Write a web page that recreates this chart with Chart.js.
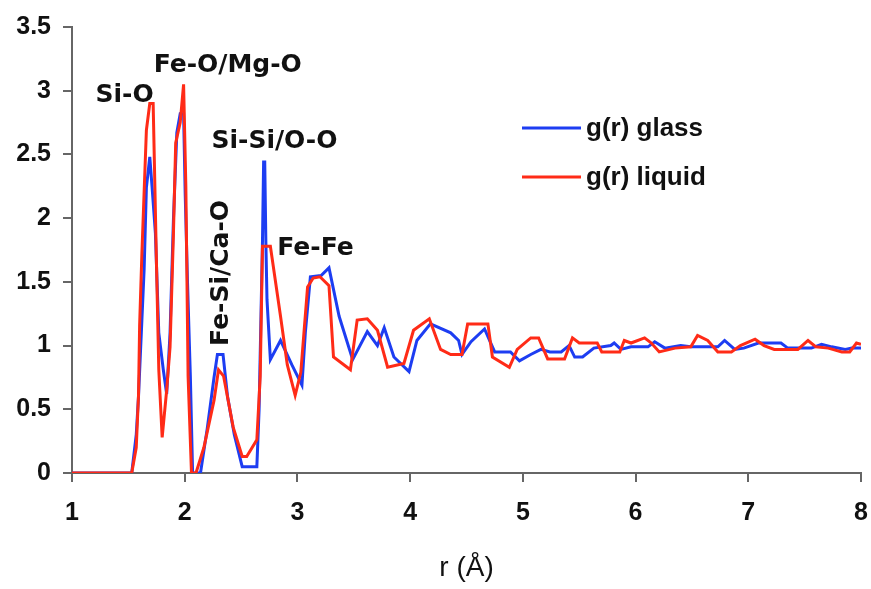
<!DOCTYPE html>
<html>
<head>
<meta charset="utf-8">
<script src="https://cdn.jsdelivr.net/npm/chart.js@4.4.1/dist/chart.umd.min.js"></script>
<style>
    html, body { margin: 0; padding: 0; background: #fff; }
    #wrap { width: 871px; height: 589px; }
</style>
</head>
<body>
<div id="wrap"><canvas id="gofr" width="871" height="589"></canvas></div>
<script>
// g(r) glass (blue)
const glassR = [1, 1.53, 1.57, 1.59, 1.62, 1.64, 1.66, 1.69, 1.71, 1.74, 1.77, 1.81, 1.84, 1.87, 1.90, 1.93, 1.96, 1.99, 2.004, 2.025, 2.05, 2.07,
    2.14, 2.20, 2.26, 2.29, 2.34, 2.38, 2.44, 2.51, 2.64, 2.66, 2.69, 2.70, 2.71, 2.72, 2.73, 2.76, 2.85, 2.95, 3.04, 3.07, 3.115, 3.21, 3.28,
    3.37, 3.49, 3.62, 3.71, 3.77, 3.856, 3.99, 4.06, 4.18, 4.36, 4.43, 4.46, 4.54, 4.66, 4.75, 4.89, 4.97, 5.07, 5.16, 5.24, 5.34, 5.41,
    5.46, 5.53, 5.63, 5.78, 5.81, 5.87, 5.96, 6.11, 6.17, 6.26, 6.40, 6.49, 6.73, 6.79, 6.88, 6.96, 7.09, 7.29, 7.35, 7.56, 7.65, 7.74,
    7.86, 7.92, 8.0];
const glassG = [0, 0, 0.3, 0.6, 1.2, 1.6, 2.24, 2.48, 2.25, 1.88, 1.1, 0.81, 0.62, 1.1, 1.99, 2.67, 2.82, 2.82, 2.2, 1.49, 0.76, 0,
    0, 0.35, 0.75, 0.93, 0.93, 0.6, 0.3, 0.05, 0.05, 0.5, 1.82, 2.44, 2.44, 1.81, 1.36, 0.89, 1.04, 0.85, 0.69, 1.1, 1.54, 1.55, 1.61,
    1.23, 0.89, 1.11, 1.0, 1.14, 0.91, 0.795, 1.04, 1.17, 1.10, 1.04, 0.93, 1.03, 1.13, 0.95, 0.95, 0.88, 0.93, 0.97, 0.95, 0.95, 1.0,
    0.91, 0.91, 0.98, 1.0, 1.02, 0.97, 0.99, 0.99, 1.03, 0.98, 1.0, 0.99, 0.99, 1.04, 0.97, 0.98, 1.02, 1.02, 0.98, 0.98, 1.01, 0.99,
    0.97, 0.98, 0.98];

// g(r) liquid (red)
const liquidR = [1, 1.53, 1.57, 1.59, 1.60, 1.62, 1.66, 1.69, 1.72, 1.75, 1.77, 1.80, 1.84, 1.87, 1.90, 1.92, 1.96, 1.99, 2.01, 2.03, 2.06,
    2.10, 2.17, 2.26, 2.30, 2.345, 2.43, 2.51, 2.55, 2.64, 2.67, 2.69, 2.76, 2.85, 2.91, 2.98, 3.03, 3.09, 3.14, 3.20, 3.28, 3.32, 3.47,
    3.53, 3.62, 3.71, 3.80, 3.945, 4.03, 4.17, 4.27, 4.36, 4.46, 4.51, 4.69, 4.73, 4.88, 4.95, 5.07, 5.14, 5.22, 5.37, 5.44, 5.50, 5.66,
    5.70, 5.86, 5.90, 5.96, 6.08, 6.14, 6.21, 6.35, 6.49, 6.55, 6.64, 6.73, 6.85, 6.93, 7.06, 7.14, 7.23, 7.44, 7.53, 7.60, 7.71, 7.83,
    7.90, 7.96, 8.0];
const liquidG = [0, 0, 0.2, 0.61, 1.16, 1.72, 2.69, 2.90, 2.90, 1.62, 0.81, 0.28, 0.65, 0.99, 1.88, 2.59, 2.75, 3.05, 2.25, 0.76, 0,
    0, 0.2, 0.57, 0.81, 0.76, 0.36, 0.13, 0.13, 0.26, 0.76, 1.78, 1.78, 1.23, 0.85, 0.61, 0.79, 1.46, 1.53, 1.54, 1.47, 0.91, 0.81,
    1.2, 1.21, 1.12, 0.83, 0.86, 1.12, 1.21, 0.97, 0.93, 0.93, 1.17, 1.17, 0.91, 0.83, 0.97, 1.06, 1.06, 0.895, 0.895, 1.06, 1.02, 1.02,
    0.95, 0.95, 1.04, 1.02, 1.06, 1.02, 0.95, 0.98, 0.99, 1.08, 1.04, 0.95, 0.95, 1.0, 1.05, 1.0, 0.97, 0.97, 1.04, 0.99, 0.98, 0.95,
    0.95, 1.02, 1.01];

const xTicks = [1, 2, 3, 4, 5, 6, 7, 8];
const yTicks = [0, 0.5, 1, 1.5, 2, 2.5, 3, 3.5];

// peak labels: [text, r, g, rotated]
const peakLabels = [
    ["Si-O", 1.467, 2.96, false],
    ["Fe-O/Mg-O", 2.382, 3.195, false],
    ["Si-Si/O-O", 2.796, 2.598, false],
    ["Fe-Fe", 3.16, 1.758, false],
    ["Fe-Si/Ca-O", 2.324, 1.57, true],
];

const toPoints = (xs, ys) => xs.map((x, i) => ({ x: x, y: ys[i] }));

const blue = "#1d3df2";
const red = "#ff2b17";

// labels on the peaks + the legend box
const annotate = {
    id: "annotate",
    afterDatasetsDraw(chart) {
        const ctx = chart.ctx;
        const xs = chart.scales.x, ys = chart.scales.y;
        ctx.save();
        ctx.fillStyle = "#111";
        ctx.font = "bold 25px 'DejaVu Sans'";
        ctx.textAlign = "center";
        ctx.textBaseline = "middle";
        peakLabels.forEach(([txt, r, g, rot]) => {
            const px = xs.getPixelForValue(r), py = ys.getPixelForValue(g);
            if (rot) {
                ctx.save();
                ctx.translate(px, py);
                ctx.rotate(-Math.PI / 2);
                ctx.fillText(txt, 0, 0);
                ctx.restore();
            } else {
                ctx.fillText(txt, px, py);
            }
        });

        // legend
        ctx.font = "bold 26px 'Liberation Sans'";
        ctx.textAlign = "left";
        chart.data.datasets.forEach((ds, i) => {
            const y = 128 + i * 49;
            ctx.strokeStyle = ds.borderColor;
            ctx.lineWidth = 3;
            ctx.beginPath();
            ctx.moveTo(522, y);
            ctx.lineTo(581, y);
            ctx.stroke();
            ctx.fillText(ds.label, 586, y + 1);
        });
        ctx.restore();
    }
};

const tickFont = { family: "'Liberation Sans'", size: 25, weight: "bold" };

const ctx = document.getElementById("gofr").getContext("2d");
const gofrChart = new Chart(ctx, {
    type: "scatter",
    data: {
        datasets: [
            {
                label: "g(r) glass",
                data: toPoints(glassR, glassG),
                borderColor: blue,
                backgroundColor: blue,
                showLine: true,
                borderWidth: 3,
                pointRadius: 0,
                tension: 0,
                order: 1,
            },
            {
                label: "g(r) liquid",
                data: toPoints(liquidR, liquidG),
                borderColor: red,
                backgroundColor: red,
                showLine: true,
                borderWidth: 3,
                pointRadius: 0,
                tension: 0,
                order: 0,
            },
        ],
    },
    options: {
        responsive: false,
        animation: false,
        layout: { padding: { left: 0, right: 0, top: 27, bottom: 0 } },
        plugins: {
            legend: { display: false },
            tooltip: { enabled: false },
        },
        scales: {
            x: {
                type: "linear",
                min: 1,
                max: 8,
                afterBuildTicks: (s) => { s.ticks = xTicks.map(v => ({ value: v })); },
                afterFit: (s) => { s.height = 116; s.paddingRight = 10; },
                grid: { drawOnChartArea: false, drawTicks: true, tickLength: 9, color: "#666", lineWidth: 2 },
                border: { display: true, color: "#666", width: 2 },
                ticks: {
                    color: "#111",
                    padding: 16,
                    font: tickFont,
                    maxRotation: 0,
                    callback: (v) => String(v),
                },
                title: {
                    display: true,
                    text: "r (Å)",
                    color: "#111",
                    font: { family: "'Liberation Sans'", size: 28 },
                    padding: { top: 24 },
                },
            },
            y: {
                min: 0,
                max: 3.5,
                afterBuildTicks: (s) => { s.ticks = yTicks.map(v => ({ value: v })); },
                afterFit: (s) => { s.width = 72; },
                grid: { drawOnChartArea: false, drawTicks: true, tickLength: 9, color: "#666", lineWidth: 2 },
                border: { display: true, color: "#666", width: 2 },
                ticks: {
                    color: "#111",
                    padding: 12,
                    font: tickFont,
                    callback: (v) => String(v),
                },
            },
        },
    },
    plugins: [annotate],
});
</script>
</body>
</html>
